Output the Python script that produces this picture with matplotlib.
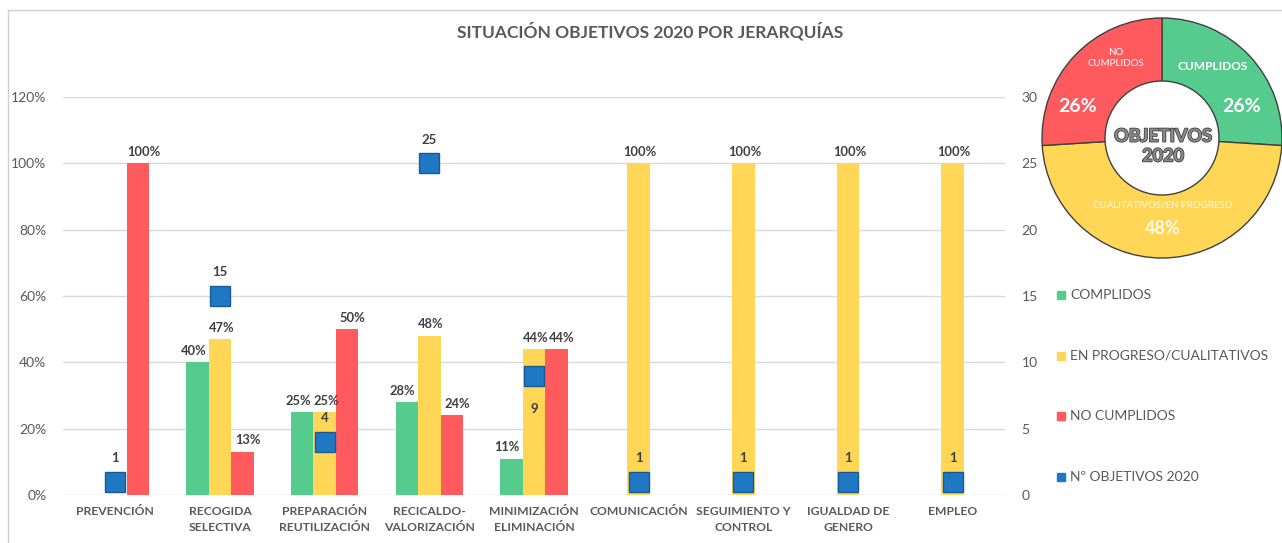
import matplotlib
matplotlib.use('Agg')
import matplotlib.pyplot as plt
import numpy as np
import matplotlib.patheffects as pe
from matplotlib.patches import Rectangle
from matplotlib.lines import Line2D
from matplotlib.ticker import FuncFormatter

plt.rcParams['font.family'] = ['Lato', 'DejaVu Sans']

# ---------------- data ----------------
categories = ['PREVENCIÓN', 'RECOGIDA\nSELECTIVA', 'PREPARACIÓN\nREUTILIZACIÓN',
              'RECICALDO-\nVALORIZACIÓN', 'MINIMIZACIÓN\nELIMINACIÓN', 'COMUNICACIÓN',
              'SEGUIMIENTO Y\nCONTROL', 'IGUALDAD DE\nGENERO', 'EMPLEO']
cumplidos = [0, 40, 25, 28, 11, 0, 0, 0, 0]
en_progreso = [0, 47, 25, 48, 44, 100, 100, 100, 100]
no_cumplidos = [100, 13, 50, 24, 44, 0, 0, 0, 0]
n_objetivos = [1, 15, 4, 25, 9, 1, 1, 1, 1]
series_names = ['COMPLIDOS', 'EN PROGRESO/CUALITATIVOS', 'NO CUMPLIDOS', 'Nº OBJETIVOS 2020']
left_ticks = [0, 20, 40, 60, 80, 100, 120]
right_ticks = [0, 5, 10, 15, 20, 25, 30]
donut_labels = ['CUMPLIDOS', 'CUALITATIVOS/EN PROGRESO', 'NO\nCUMPLIDOS']
donut_values = [26, 48, 26]
title = 'SITUACIÓN OBJETIVOS 2020 POR JERARQUÍAS'
center_text = 'OBJETIVOS\n2020'

GREEN = '#55CB8D'
YELLOW = '#FFD655'
RED = '#FF5B5E'
BLUE = '#1F78C4'
BLUE_EDGE = '#1A5A92'
GRID = '#D9D9D9'
TXT = '#595959'
DARK = '#404040'

W, H = 1282, 543
fig = plt.figure(figsize=(W / 100, H / 100), dpi=100)

# border of chart area
fig.add_artist(Line2D([8 / W, 1], [1 - 10 / H, 1 - 10 / H], color='#D0D0D0', lw=1))
fig.add_artist(Line2D([8 / W, 8 / W], [0, 1 - 10 / H], color='#D0D0D0', lw=1))

ax = fig.add_axes([63 / W, 48 / H, 942 / W, 398 / H])
x = np.arange(len(categories))
bw = 0.215
# (values, colour, bar offset, label x-shift in points)
series = [(cumplidos, GREEN, -bw, -3), (en_progreso, YELLOW, 0, 1), (no_cumplidos, RED, bw, 4)]
for vals, col, off, lx in series:
    bars = ax.bar(x + off, vals, bw, color=col, zorder=2)
    for b, v in zip(bars, vals):
        if v > 0:
            ax.annotate(f'{v}%', (b.get_x() + b.get_width() / 2, v), xytext=(lx, 4),
                        textcoords='offset points', ha='center', va='bottom',
                        fontsize=9.3, fontweight='bold', color=DARK, zorder=5)

ax.set_xlim(-0.5, len(categories) - 0.5)
ax.set_ylim(0, 120)
ax.set_yticks(left_ticks)
ax.yaxis.set_major_formatter(FuncFormatter(lambda v, p: f'{int(v)}%'))
ax.set_xticks(x)
ax.set_xticklabels(categories, fontsize=8.7, fontweight='bold', color=TXT, linespacing=1.5)
ax.tick_params(axis='x', length=0, pad=8)
ax.tick_params(axis='y', length=0, pad=12, labelsize=10, labelcolor=TXT)
ax.grid(axis='y', color=GRID, lw=1, zorder=0)
ax.set_axisbelow(True)
for s in ax.spines.values():
    s.set_visible(False)

ax2 = ax.twinx()
ax2.set_ylim(0, 30)
ax2.set_yticks(right_ticks)
ax2.tick_params(axis='y', length=0, pad=12, labelsize=10, labelcolor=TXT)
for s in ax2.spines.values():
    s.set_visible(False)
ax2.plot(x, n_objetivos, 's', ms=15, color=BLUE, mec=BLUE_EDGE, mew=1, ls='none', zorder=4)
for xi, v in zip(x, n_objetivos):
    dy = -24 if v == 9 else 17
    ax2.annotate(f'{v}', (xi, v), xytext=(0, dy), textcoords='offset points',
                 ha='center', va='center', fontsize=9.5, fontweight='bold', color=DARK)

# title
fig.text(650 / W, 1 - 31 / H, title, ha='center', va='center', fontsize=12.5,
         fontweight='bold', color=TXT)

# legend
leg_cols = [GREEN, YELLOW, RED, BLUE]
leg_y = [295, 356, 416, 477]
for name, col, yy in zip(series_names, leg_cols, leg_y):
    fig.add_artist(Rectangle((1057 / W, 1 - (yy + 4) / H), 8 / W, 8 / H,
                             transform=fig.transFigure, color=col))
    fig.text(1070 / W, 1 - yy / H, name, ha='left', va='center', fontsize=10, color=TXT)

# donut
cx, cy, R = 1162, 138, 120
dax = fig.add_axes([(cx - R) / W, 1 - (cy + R) / H, 2 * R / W, 2 * R / H])
wedges, _ = dax.pie(donut_values, radius=1, startangle=90, counterclock=False,
                    colors=[GREEN, YELLOW, RED],
                    wedgeprops=dict(width=0.525, edgecolor=DARK, linewidth=1))
for w_ in wedges:
    w_.set_clip_on(False)
dax.set_xlim(-1, 1)
dax.set_ylim(-1, 1)
dax.set_aspect('equal')
dax.axis('off')

def dpos(px, py):
    return ((px - cx) / R, -(py - cy) / R)

dax.text(*dpos(1213, 66), donut_labels[0], ha='center', va='center', fontsize=8.5,
         fontweight='bold', color='white')
dax.text(*dpos(1242, 106), f'{donut_values[0]}%', ha='center', va='center', fontsize=14,
         fontweight='bold', color='white')
dax.text(*dpos(1116, 58), donut_labels[2], ha='center', va='center', fontsize=7,
         color='white', linespacing=1.3)
dax.text(*dpos(1078, 106), f'{donut_values[2]}%', ha='center', va='center', fontsize=14,
         fontweight='bold', color='white')
dax.text(*dpos(1163, 205), donut_labels[1], ha='center', va='center', fontsize=7,
         color='white', alpha=0.85)
dax.text(*dpos(1163, 229), f'{donut_values[1]}%', ha='center', va='center', fontsize=13,
         fontweight='bold', color='white', alpha=0.9)
dax.text(*dpos(1163, 146), center_text, ha='center', va='center', fontsize=13,
         fontweight='bold', color='#8A8A8A', linespacing=1.2,
         path_effects=[pe.withStroke(linewidth=1.2, foreground='#404040')])

fig.savefig('out.png', dpi=100)
